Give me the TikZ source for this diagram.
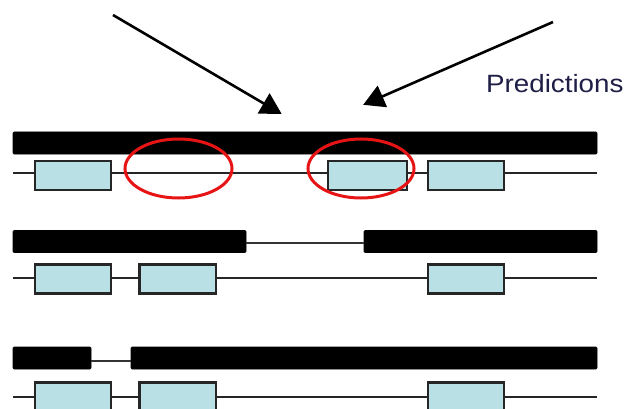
\documentclass[tikz,border=0pt]{standalone}
\usepackage{fontspec}
\setmainfont{Liberation Sans}
\usetikzlibrary{arrows.meta}
\definecolor{exonblue}{RGB}{185,224,228}
\definecolor{predred}{RGB}{230,20,20}
\definecolor{labelink}{RGB}{30,30,70}
\tikzset{
  bar/.style={fill=black, draw=black, line width=0.6pt, rounded corners=1pt, inner sep=0pt, minimum height=22pt},
  exon/.style={fill=exonblue, draw=black!85, line width=2.5pt, inner sep=0pt, minimum height=29pt},
  gline/.style={draw=black!85, line width=2.5pt},
  link/.style={draw=black!80, line width=2pt},
  hilite/.style={draw=predred, line width=3pt},
  pointer/.style={draw=black, line width=2.6pt, -{Triangle[length=21pt,width=23pt]}, shorten >=-2pt}
}
\begin{document}
\begin{tikzpicture}[x=1pt,y=-1pt]
\useasboundingbox (0,0) rectangle (634,409);
% row 1
\coordinate (g1l) at (13,173);
\coordinate (g1r) at (597,173);
\draw[gline] (g1l) -- (g1r);
\node[bar, minimum width=584pt] (b1) at (305,143) {};
\node[exon, minimum width=76pt] (e11) at (73,175.5) {};
\node[exon, minimum width=79pt] (e12) at (367.5,175.5) {};
\node[exon, minimum width=76pt] (e13) at (466,175.5) {};
\draw[hilite] (178.5,168.5) ellipse [x radius=53.5, y radius=29.5];
\draw[hilite] (361,168.5) ellipse [x radius=53, y radius=29.5];
% row 2
\node[bar, minimum width=233pt] (b2l) at (129.5,241.5) {};
\node[bar, minimum width=233pt] (b2r) at (480.5,241.5) {};
\draw[link] (b2l.east |- 0,243) -- (b2r.west |- 0,243);
\coordinate (g2l) at (13,278);
\coordinate (g2r) at (597,278);
\draw[gline] (g2l) -- (g2r);
\node[exon, minimum width=76pt] (e21) at (73,279) {};
\node[exon, minimum width=76.5pt] (e22) at (177.75,279) {};
\node[exon, minimum width=76pt] (e23) at (466,279) {};
% row 3
\node[bar, minimum width=78pt] (b3l) at (52,358) {};
\node[bar, minimum width=466pt] (b3r) at (364,358) {};
\draw[link] (b3l.east |- 0,361) -- (b3r.west |- 0,361);
\coordinate (g3l) at (13,397);
\coordinate (g3r) at (597,397);
\draw[gline] (g3l) -- (g3r);
\node[exon, minimum width=76pt] (e31) at (73,397) {};
\node[exon, minimum width=76.5pt] (e32) at (177.75,397) {};
\node[exon, minimum width=76pt] (e33) at (466,397) {};
% arrows and label
\coordinate (a1s) at (113,15);
\coordinate (a1e) at (280,113);
\coordinate (a2s) at (553,22);
\coordinate (a2e) at (365,104);
\draw[pointer] (a1s) -- (a1e);
\draw[pointer] (a2s) -- (a2e);
\node[anchor=base west, inner sep=0pt, text=labelink, xscale=1.11, font=\fontsize{25}{28}\selectfont] (pred) at (486,93) {Predictions};
\end{tikzpicture}
\end{document}
